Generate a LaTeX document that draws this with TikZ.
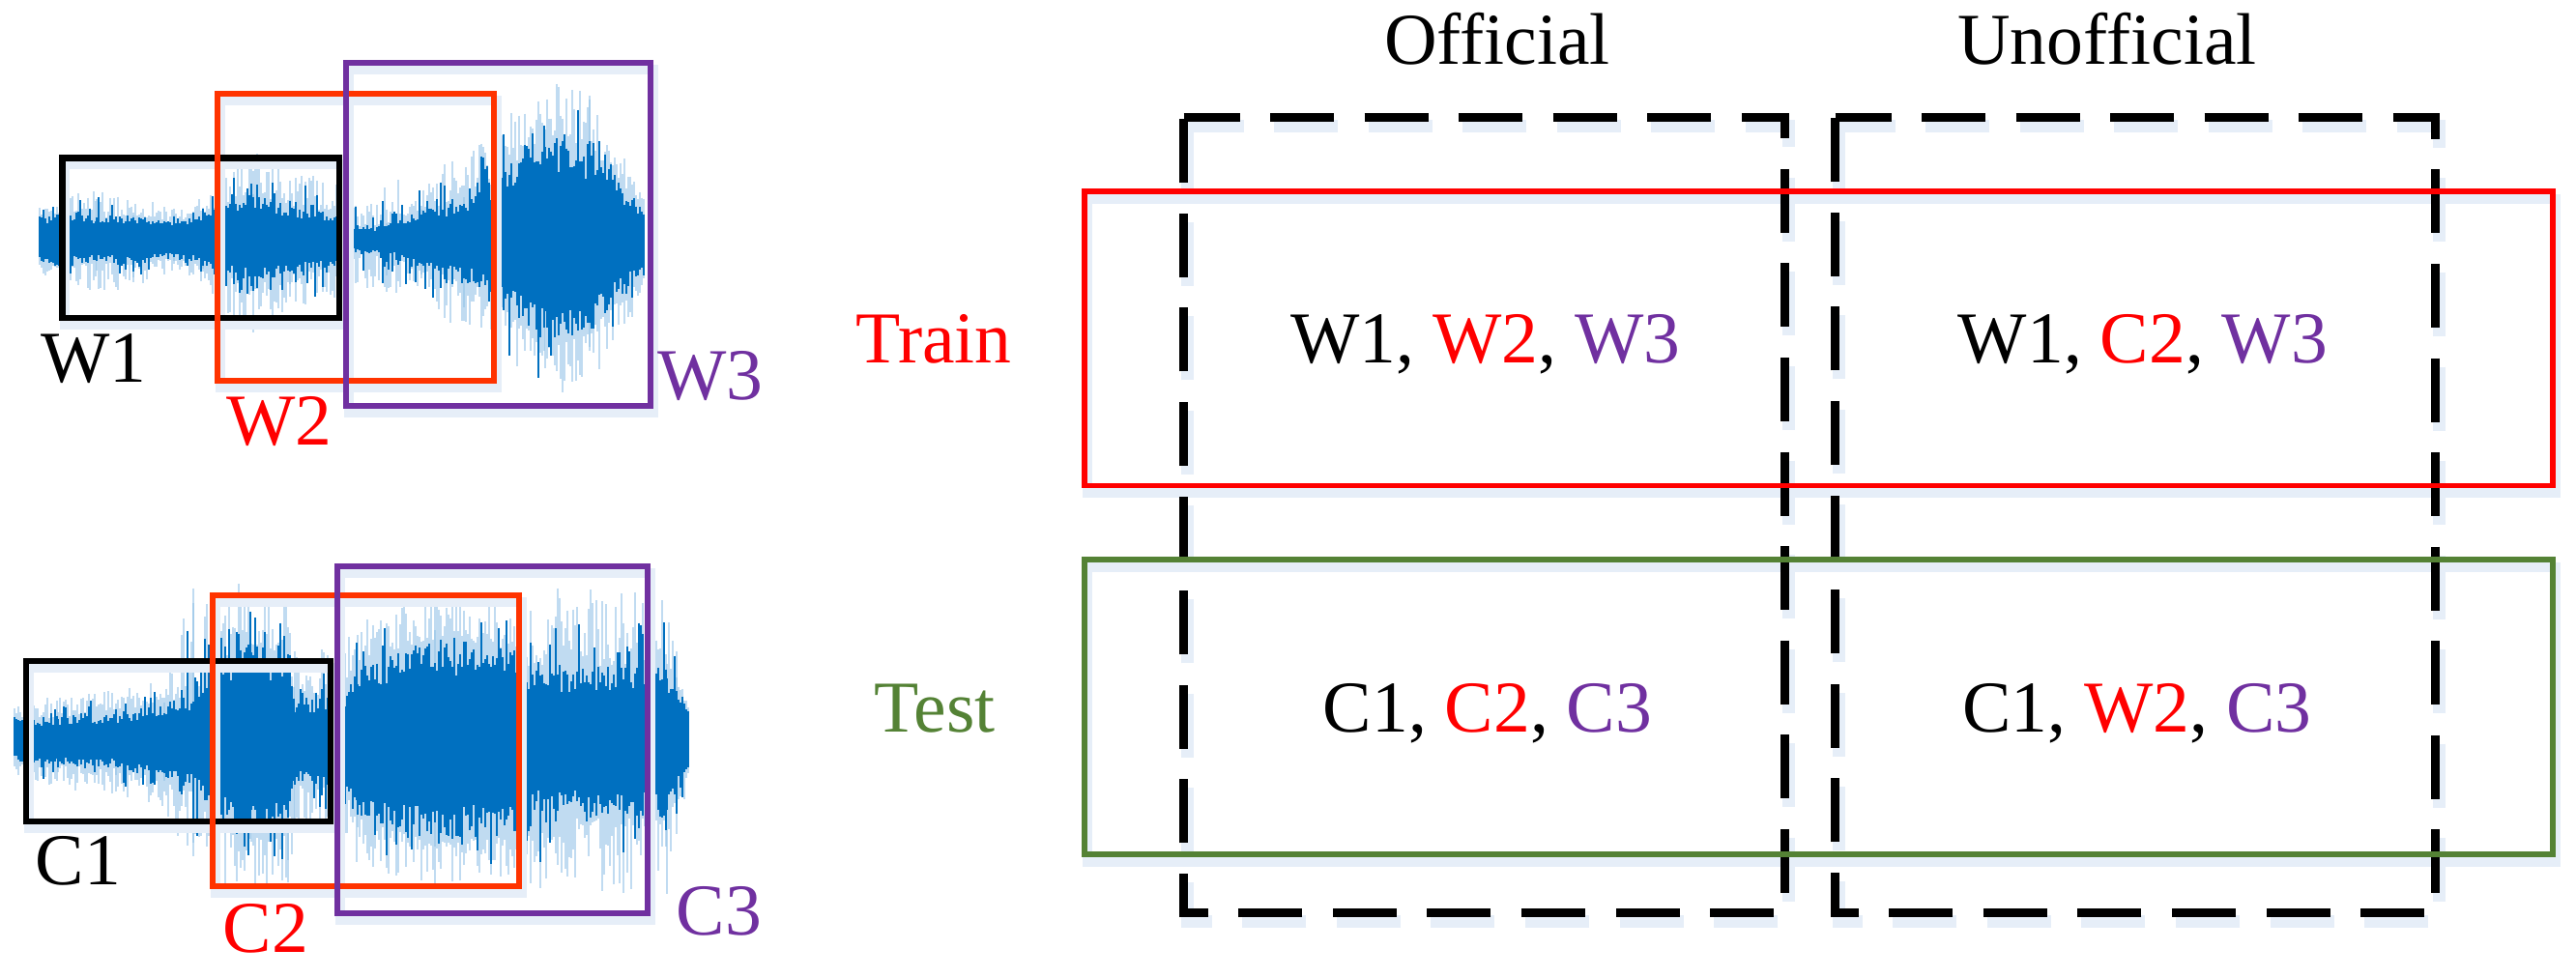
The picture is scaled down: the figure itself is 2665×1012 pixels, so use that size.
\documentclass[tikz,border=0pt]{standalone}
\usepackage{fontspec}
\setmainfont{Liberation Serif}
\definecolor{wblue}{RGB}{0,112,192}
\definecolor{wlight}{RGB}{150,196,232}
\definecolor{boxred}{RGB}{255,51,0}
\definecolor{txtred}{RGB}{255,0,0}
\definecolor{purp}{RGB}{112,48,160}
\definecolor{grn}{RGB}{84,130,53}
\definecolor{shadowc}{RGB}{230,238,248}
\tikzset{
  lbl/.style={anchor=base, inner sep=0pt, font=\fontsize{21.5pt}{25pt}\selectfont},
  dbox/.style={draw=black, line width=0.09cm, dash pattern=on 0.66cm off 0.315cm, dash phase=0.08cm},
  dshad/.style={draw=shadowc, line width=0.13cm, dash pattern=on 0.66cm off 0.315cm, dash phase=0.08cm},
  cbox/.style={line width=0.058cm},
  wbox/.style={line width=0.06cm},
  shad/.style={draw=shadowc, line width=0.1cm},
  wvlight/.style={draw=wlight, line width=0.018cm, opacity=0.6},
  wvdark/.style={draw=wblue, line width=0.028cm},
}
\newcommand\wavepass[2]{%
  \foreach \xa/\ca/\pa/\xb/\cb/\pb in {#2}{
    \pgfmathtruncatemacro\wvN{(\xb-\xa)/2}
    \foreach \i in {0,...,\wvN}{
      \pgfmathsetmacro\wvX{\xa+2*\i}
      \pgfmathsetmacro\wvT{(\wvX-\xa)/(\xb-\xa)}
      \pgfmathsetmacro\wvC{\ca+(\cb-\ca)*\wvT}
      \pgfmathsetmacro\wvP{\pa+(\pb-\pa)*\wvT}
      \pgfmathsetmacro\wvU{\wvC+(\wvP-\wvC)*pow(rnd,1.5)}
      \pgfmathsetmacro\wvD{\wvC+(\wvP-\wvC)*pow(rnd,1.5)}
      \draw[wvlight] ({\wvX},{#1-\wvU}) -- ({\wvX},{#1+\wvD});
    }
  }
  \foreach \xa/\ca/\pa/\xb/\cb/\pb in {#2}{
    \pgfmathtruncatemacro\wvN{(\xb-\xa)/2}
    \foreach \i in {0,...,\wvN}{
      \pgfmathsetmacro\wvX{\xa+2*\i}
      \pgfmathsetmacro\wvT{(\wvX-\xa)/(\xb-\xa)}
      \pgfmathsetmacro\wvC{\ca+(\cb-\ca)*\wvT}
      \pgfmathsetmacro\wvP{\pa+(\pb-\pa)*\wvT}
      \pgfmathsetmacro\wvU{\wvC*(0.65+0.35*rnd)+0.8*(\wvP-\wvC)*pow(rnd,6)}
      \pgfmathsetmacro\wvD{\wvC*(0.65+0.35*rnd)+0.8*(\wvP-\wvC)*pow(rnd,6)}
      \draw[wvdark] ({\wvX},{#1-\wvU}) -- ({\wvX},{#1+\wvD});
    }
  }
}
\begin{document}
\begin{tikzpicture}[x=0.01cm, y=-0.01cm]
\useasboundingbox (0,0) rectangle (2665,1012);
\fill[white] (0,0) rectangle (2665,1012);
\pgfmathsetseed{7}
% top waveform
\wavepass{248}{41/25/35/67/28/45, 67/28/45/100/22/55, 100/22/55/138/25/50, 138/25/50/180/18/35, 180/18/35/210/28/45, 210/28/45/230/35/70, 230/35/70/262/45/100, 262/45/100/300/35/75, 300/35/75/350/28/60, 350/28/60/360/12/45, 360/12/45/400/15/60, 400/15/60/436/30/70, 436/30/70/480/40/95, 480/40/95/513/60/120, 513/60/120/564/110/170, 564/110/170/610/95/150, 610/95/150/667/30/60}
% bottom waveform
\wavepass{767}{15/22/35/60/25/50, 60/25/50/120/28/55, 120/28/55/170/40/70, 170/40/70/200/50/160, 200/50/160/225/80/160, 225/80/160/260/100/165, 260/100/165/298/90/150, 298/90/150/305/45/100, 305/45/100/355/45/95, 355/45/95/370/80/130, 370/80/130/450/105/150, 450/105/150/540/95/140, 540/95/140/545/75/160, 545/75/160/690/80/160, 690/80/160/700/60/100, 700/60/100/713/30/40}

% shadows of left boxes
\draw[shad] (67,170) rectangle (354,336);
\draw[shad] (228,104) rectangle (514,401);
\draw[shad] (361,72) rectangle (676,427);
\draw[shad] (30,691) rectangle (345,857);
\draw[shad] (223,623) rectangle (540,924);
\draw[shad] (352,593) rectangle (673,952);
% left boxes
\draw[wbox, draw=black] (64.5,163.5) rectangle (351,328.5);
\draw[wbox, draw=boxred] (225,97) rectangle (511,394);
\draw[wbox, draw=purp] (358,65) rectangle (673,420);
\draw[wbox, draw=black] (27,684) rectangle (342,850);
\draw[wbox, draw=boxred] (220,616) rectangle (537,917);
\draw[wbox, draw=purp] (349,586) rectangle (670,945);

% left labels
\node[lbl] (w1) at (97,395) {W1};
\node[lbl, text=txtred] (w2) at (289,460) {W2};
\node[lbl, text=purp] (w3) at (735,413) {W3};
\node[lbl] (c1) at (81,915) {C1};
\node[lbl, text=txtred] (c2) at (275,985) {C2};
\node[lbl, text=purp] (c3) at (744,967) {C3};

% shadows of right boxes
\draw[dshad] (1228.5,130.5) -- (1850,130.5) -- (1850,953.5) -- (1228.5,953.5) -- cycle;
\draw[dshad] (1902.5,130.5) -- (2523.5,130.5) -- (2523.5,953.5) -- (1902.5,953.5) -- cycle;
\draw[shad] (1125,206) rectangle (2644,510);
\draw[shad] (1125,587) rectangle (2644,892);
% dashed column boxes
\draw[dbox] (1224.5,121.5) -- (1846,121.5) -- (1846,944.5) -- (1224.5,944.5) -- cycle;
\draw[dbox] (1898.5,121.5) -- (2519.5,121.5) -- (2519.5,944.5) -- (1898.5,944.5) -- cycle;
% row boxes
\draw[cbox, draw=txtred] (1122,198) rectangle (2641,502.5);
\draw[cbox, draw=grn] (1122,579) rectangle (2641,884);

% headers and cells
\node[lbl] (official) at (1549,67) {Official};
\node[lbl] (unofficial) at (2180,67) {Unofficial};
\node[lbl, text=txtred] (train) at (966,375) {Train};
\node[lbl, text=grn] (test) at (967,757) {Test};
\node[lbl] (cell11) at (1537,375) {W1, \textcolor{txtred}{W2}, \textcolor{purp}{W3}};
\node[lbl] (cell12) at (2217,375) {W1, \textcolor{txtred}{C2}, \textcolor{purp}{W3}};
\node[lbl] (cell21) at (1539,757) {C1, \textcolor{txtred}{C2}, \textcolor{purp}{C3}};
\node[lbl] (cell22) at (2211,757) {C1, \textcolor{txtred}{W2}, \textcolor{purp}{C3}};
\end{tikzpicture}
\end{document}
